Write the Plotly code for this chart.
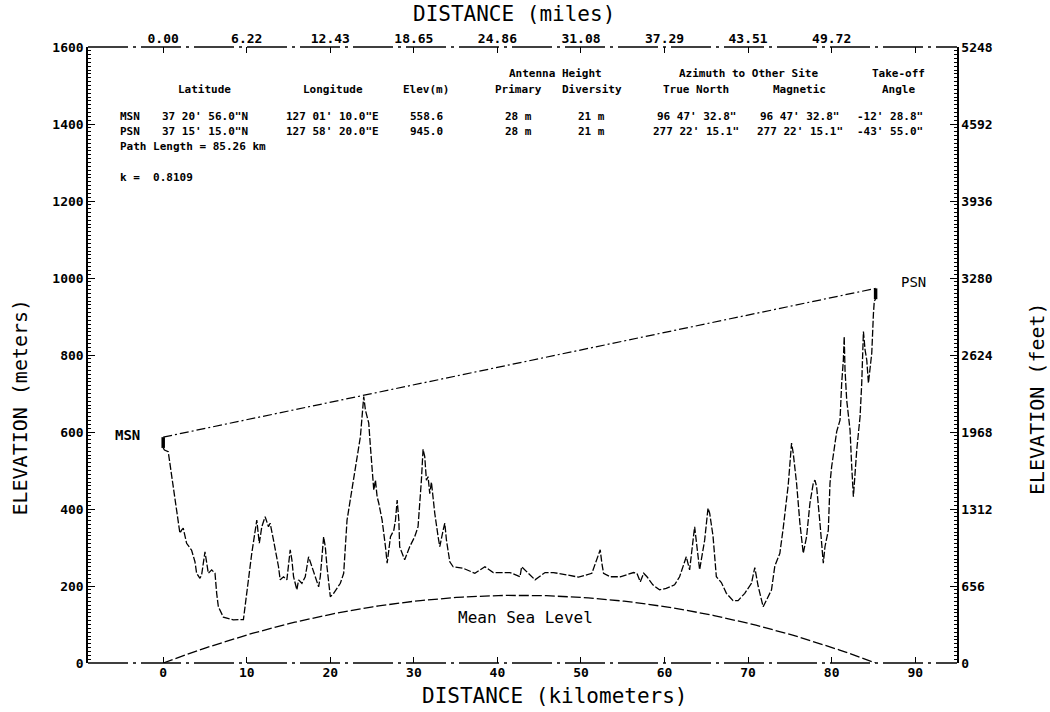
import numpy as np
import plotly.graph_objects as go

# ---- Path profile (distance from MSN in km, plotted elevation in m) ----
distance_km = [
    0.0, 0.15, 0.6, 1.7, 1.85, 2.0, 2.2, 2.4, 2.8, 3.4, 3.8, 4.0, 4.4, 4.6,
    5.0, 5.2, 5.4, 5.8, 6.2, 6.4, 6.6, 7.2, 8.4, 9.6, 10.0, 10.6, 11.2, 11.5,
    11.8, 12.2, 12.6, 12.8, 13.2, 13.8, 14.0, 14.4, 14.8, 15.2, 15.4, 15.6,
    16.0, 16.2, 16.6, 17.0, 17.4, 17.8, 18.2, 18.6, 18.8, 19.2, 19.4, 19.6,
    20.0, 20.4, 21.2, 21.6, 22.0, 22.6, 23.2, 23.6, 24.0, 24.2, 24.4, 24.6,
    24.8, 25.0, 25.2, 25.4, 25.6, 25.8, 26.2, 26.6, 26.8, 27.2, 27.6, 27.8,
    28.0, 28.2, 28.3, 28.9, 29.5, 30.1, 30.5, 30.9, 31.1, 31.3, 31.5, 31.7,
    31.9, 32.1, 32.3, 32.5, 32.9, 33.1, 33.5, 33.7, 33.9, 34.3, 34.7, 35.9,
    37.3, 38.5, 39.5, 41.5, 42.7, 42.9, 43.7, 44.5, 45.7, 46.7, 48.3, 49.7,
    51.3, 51.9, 52.3, 52.5, 52.7, 53.5, 54.7, 56.3, 56.7, 57.1, 57.5, 57.9,
    58.6, 59.4, 60.2, 61.2, 61.8, 62.6, 63.0, 63.6, 63.8, 64.2, 64.4, 64.8,
    65.2, 65.4, 65.8, 66.2, 66.8, 67.4, 68.2, 68.8, 69.6, 70.4, 70.8, 71.2,
    71.8, 72.4, 72.8, 73.2, 73.8, 74.2, 74.8, 75.2, 75.4, 75.8, 76.2, 76.6,
    77.0, 77.4, 77.8, 78.0, 78.2, 78.6, 78.8, 79.0, 79.2, 79.6, 79.8, 80.0,
    80.6, 81.0, 81.2, 81.4, 81.5, 81.6, 81.8, 82.2, 82.4, 82.6, 83.0, 83.4,
    83.6, 83.8, 84.0, 84.2, 84.4, 84.6, 84.8, 85.0, 85.1, 85.26,
]
elevation_m = [
    558.6, 553, 549, 380, 363, 337, 345, 350, 311, 293, 263, 233, 220, 229,
    289, 263, 233, 242, 233, 181, 146, 119, 112, 113, 181, 285, 371, 311,
    354, 380, 354, 363, 319, 250, 216, 224, 216, 294, 268, 224,
    190, 216, 207, 224, 276, 250, 224, 198, 224, 328, 302, 250,
    172, 181, 207, 233, 371, 449, 536, 588, 692, 657, 640, 623,
    562, 493, 449, 475, 432, 415, 371, 302, 259, 328, 345, 371,
    423, 371, 302, 268, 302, 328, 354, 475, 555, 536, 475, 484,
    440, 470, 420, 389, 328, 302, 345, 363, 319, 263, 250, 246,
    233, 250, 235, 235, 224, 250, 233, 216, 235, 235, 229, 223,
    233, 268, 294, 259, 233, 224, 224, 235, 233, 211, 233, 224,
    203, 190, 194, 203, 224, 276, 242, 354, 319, 242, 268, 319,
    402, 389, 330, 224, 209, 181, 162, 162, 181, 207, 248, 200,
    146, 170, 190, 252, 285, 350, 462, 571, 545, 467, 363, 285,
    328, 415, 467, 475, 458, 363, 319, 259, 302, 345, 467, 510,
    601, 631, 727, 787, 848, 761, 683, 605, 510, 432, 553, 640,
    727, 861, 813, 787, 727, 770, 805, 908, 940, 945,
]

# ---- Site data ----
site_names = ["MSN", "PSN"]
site_lat = ["37 20' 56.0\"N", "37 15' 15.0\"N"]
site_lon = ["127 01' 10.0\"E", "127 58' 20.0\"E"]
site_elev_m = [558.6, 945.0]
antenna_primary_m = [28, 28]
antenna_diversity_m = [21, 21]
azimuth_true = ["96 47' 32.8\"", "277 22' 15.1\""]
azimuth_mag = ["96 47' 32.8\"", "277 22' 15.1\""]
takeoff_angle = ["-12' 28.8\"", "-43' 55.0\""]
path_length_km = 85.26
k_factor = 0.8109

# ---- Axis ticks ----
km_ticks = [0, 10, 20, 30, 40, 50, 60, 70, 80, 90]
km_ticktext = ["0", "10", "20", "30", "40", "50", "60", "70", "80", "90"]
mile_ticktext = ["0.00", "6.22", "12.43", "18.65", "24.86", "31.08",
                 "37.29", "43.51", "49.72", ""]
M_TO_FT = 3.28

INK = "#000000"
MONO = "DejaVu Sans Mono"
TICKFONT = dict(family=MONO, size=13, color=INK, weight="bold")

fig = go.Figure()

# Earth bulge for the effective earth radius factor k
d = np.linspace(0, path_length_km, 120)
bulge = d * (path_length_km - d) / (12.75 * k_factor)
fig.add_trace(go.Scatter(x=d, y=bulge, mode="lines",
                         line=dict(color=INK, width=1.3, dash="10px,3px"),
                         hoverinfo="skip", showlegend=False))

# Terrain profile
fig.add_trace(go.Scatter(x=distance_km, y=elevation_m, mode="lines",
                         line=dict(color=INK, width=1.3, dash="7px,2px"),
                         showlegend=False))

# Line of sight between the primary antennas
los_x = [0, path_length_km]
los_y = [site_elev_m[0] + antenna_primary_m[0], site_elev_m[1] + antenna_primary_m[1]]
fig.add_trace(go.Scatter(x=los_x, y=los_y, mode="lines",
                         line=dict(color=INK, width=1.2, dash="9px,3px,2px,3px"),
                         showlegend=False))

# Antenna masts
for xs, elev, ant in zip(los_x, site_elev_m, antenna_primary_m):
    fig.add_trace(go.Scatter(x=[xs, xs], y=[elev, elev + ant], mode="lines",
                             line=dict(color=INK, width=3.5), showlegend=False))

# Secondary axes (miles on top, feet on the right)
fig.add_trace(go.Scatter(x=[0], y=[0], xaxis="x2", yaxis="y2", mode="markers",
                         marker=dict(opacity=0), hoverinfo="skip", showlegend=False))

X_RANGE = [-9, 95]
Y_TOP_M = 1600
Y_STEP_M = 200

common_x = dict(range=X_RANGE, tickmode="array", tickvals=km_ticks, ticks="inside",
                ticklen=6, tickcolor=INK, tickwidth=1.3, showgrid=False,
                zeroline=False, showline=False, tickfont=TICKFONT)


def vertical_axis(top, step, side, **extra):
    return dict(range=[0, top], tickmode="linear", tick0=0, dtick=step,
                ticks="inside", ticklen=7, tickcolor=INK, tickwidth=1.3,
                showgrid=False, zeroline=False, showline=True, linecolor=INK,
                linewidth=1.5, tickfont=TICKFONT, side=side,
                minor=dict(tickmode="linear", tick0=0, dtick=step / 20,
                           ticks="inside", ticklen=3, tickcolor=INK, tickwidth=1,
                           showgrid=False),
                **extra)


fig.update_layout(
    width=1050, height=712, autosize=False,
    margin=dict(l=88, r=93, t=47, b=49, pad=0),
    paper_bgcolor="white", plot_bgcolor="white",
    xaxis=dict(**common_x, ticktext=km_ticktext, side="bottom"),
    xaxis2=dict(**common_x, ticktext=mile_ticktext, side="top", overlaying="x"),
    yaxis=vertical_axis(Y_TOP_M, Y_STEP_M, "left"),
    yaxis2=vertical_axis(Y_TOP_M * M_TO_FT, Y_STEP_M * M_TO_FT, "right",
                         overlaying="y", tickformat="d"),
)

# Top and bottom frame lines
for yp in (0, 1):
    fig.add_shape(type="line", xref="paper", yref="paper", x0=0, x1=1, y0=yp, y1=yp,
                  line=dict(color=INK, width=1.4, dash="40px,5px,3px,5px"))

annotations = []


def text(x, y, s, size=11, xanchor="center", bold=True, family=MONO, angle=0,
         xref="x", yref="y"):
    annotations.append(dict(x=x, y=y, xref=xref, yref=yref, text=s, showarrow=False,
                            xanchor=xanchor, yanchor="middle", textangle=angle,
                            font=dict(family=family, size=size, color=INK,
                                      weight="bold" if bold else "normal")))


# Axis titles
text(0.49, 1.0, "DISTANCE (miles)", size=21, bold=False, xref="paper", yref="paper")
annotations[-1].update(yshift=33)
text(0.537, 0.0, "DISTANCE (kilometers)", size=21, bold=False, xref="paper", yref="paper")
annotations[-1].update(yshift=-33)
text(-0.078, 0.415, "ELEVATION (meters)", size=20, bold=False, angle=-90,
     xref="paper", yref="paper")
text(1.092, 0.43, "ELEVATION (feet)", size=20, bold=False, angle=-90,
     xref="paper", yref="paper")

# Site labels and sea-level caption
text(-4.3, 592, site_names[0], size=14)
text(89.8, 990, site_names[1], size=14, bold=False)
text(43.3, 119, "Mean Sea Level", size=16, bold=False)

# Data table
row_h1, row_h2, row_a, row_b, row_pl, row_k = 1530, 1490, 1420, 1381, 1342, 1260
col_site = -5.4
col_lat, col_lon, col_elev = 5.0, 20.3, 31.5
col_pri, col_div = 42.5, 51.3
col_true, col_mag, col_ang = 63.8, 76.2, 88.0

text(col_lat, row_h2, "Latitude")
text(col_lon, row_h2, "Longitude")
text(col_elev, row_h2, "Elev(m)")
text((col_pri + col_div) / 2, row_h1, "Antenna Height")
text(col_pri, row_h2, "Primary")
text(col_div, row_h2, "Diversity")
text((col_true + col_mag) / 2, row_h1, "Azimuth to Other Site")
text(col_true, row_h2, "True North")
text(col_mag, row_h2, "Magnetic")
text(col_ang, row_h1, "Take-off")
text(col_ang, row_h2, "Angle")

for row, i in ((row_a, 0), (row_b, 1)):
    text(col_site, row, site_names[i], xanchor="left")
    text(col_lat, row, site_lat[i])
    text(col_lon, row, site_lon[i])
    text(col_elev, row, f"{site_elev_m[i]:.1f}")
    text(col_pri, row, f"{antenna_primary_m[i]} m")
    text(col_div, row, f"{antenna_diversity_m[i]} m")
    text(col_true, row, azimuth_true[i])
    text(col_mag, row, azimuth_mag[i])
    text(col_ang - 1.0, row, takeoff_angle[i])

text(col_site, row_pl, f"Path Length = {path_length_km:.2f} km", xanchor="left")
text(col_site, row_k, f"k =  {k_factor:.4f}", xanchor="left")

fig.update_layout(annotations=annotations)

fig.write_html("out.html")
